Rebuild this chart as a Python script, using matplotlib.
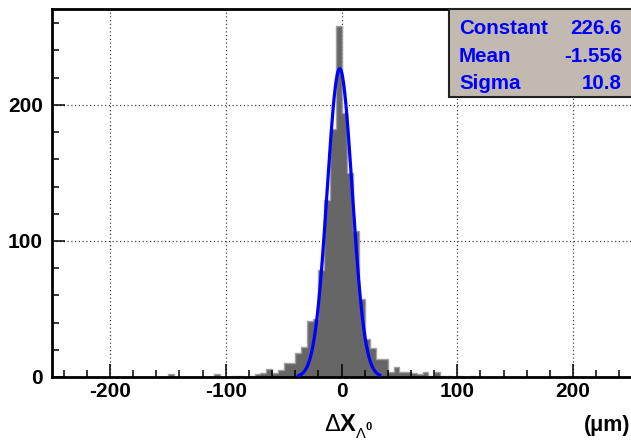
import numpy as np
import matplotlib
matplotlib.use("Agg")
import matplotlib.pyplot as plt
from matplotlib.ticker import MultipleLocator
from matplotlib.patches import Rectangle

plt.rcParams['font.family'] = ['Liberation Sans', 'DejaVu Sans']
plt.rcParams['mathtext.fontset'] = 'custom'
plt.rcParams['mathtext.rm'] = 'Liberation Sans'
plt.rcParams['mathtext.bf'] = 'Liberation Sans:bold'
plt.rcParams['mathtext.it'] = 'Liberation Sans:italic'

# ---- data ----
bin_edges = np.arange(-250, 255, 5)
counts = [
    0, 0, 0, 0, 0, 0, 0, 0, 0, 0,          # -250 .. -200
    0, 0, 0, 0, 0, 0, 0, 0, 0, 0,          # -200 .. -150
    2, 0, 0, 0, 0, 0, 0, 0, 2, 0,          # -150 .. -100
    0, 1, 1, 0, 1, 2, 3, 6, 3, 5,          # -100 .. -50
    10, 10, 18, 22, 41, 43, 79, 130, 182, 258,  # -50 .. 0
    194, 150, 107, 57, 28, 21, 13, 13, 4, 7,    # 0 .. 50
    4, 4, 3, 2, 4, 1, 4, 1, 1, 0,          # 50 .. 100
    1, 0, 1, 0, 0, 0, 0, 0, 0, 0,          # 100 .. 150
    0, 0, 0, 0, 0, 0, 0, 0, 0, 1,          # 150 .. 200
    0, 0, 0, 0, 0, 0, 0, 0, 0, 0,          # 200 .. 250
]
fit_constant = 226.6
fit_mean = -1.556
fit_sigma = 10.8
fit_range = (-37.0, 33.0)
stat_names = ["Constant", "Mean", "Sigma"]
stat_values = ["226.6", "-1.556", "10.8"]
xticks = [-200, -100, 0, 100, 200]
yticks = [0, 100, 200]

W, H = 631, 442
fig = plt.figure(figsize=(W / 100, H / 100), dpi=100)
ax = fig.add_axes([52 / W, 1 - 377 / H, 1 - 52 / W, (377 - 9) / H])
ax.set_xlim(-250, 250)
ax.set_ylim(0, 270.5)

# grid (below bars)
for x in xticks:
    ax.axvline(x, color='#444444', lw=0.9, ls=(0, (1, 2)), zorder=0.5)
for y in yticks[1:]:
    ax.axhline(y, color='#444444', lw=0.9, ls=(0, (1, 2)), zorder=0.5)

ax.stairs(counts, bin_edges, fill=True, color='#666666', zorder=1)
ax.stairs(counts, bin_edges, fill=False, color='#a0a0a0', lw=1.0, zorder=1.1)

xf = np.linspace(fit_range[0], fit_range[1], 300)
yf = fit_constant * np.exp(-0.5 * ((xf - fit_mean) / fit_sigma) ** 2)
ax.plot(xf, yf, color='#0000ff', lw=2.3, zorder=3)

ax.xaxis.set_major_locator(MultipleLocator(100))
ax.xaxis.set_minor_locator(MultipleLocator(20))
ax.yaxis.set_major_locator(MultipleLocator(100))
ax.yaxis.set_minor_locator(MultipleLocator(20))
ax.tick_params(which='both', direction='in', top=False, right=False, width=1.1, color='black')
ax.tick_params(which='major', length=9.4)
ax.tick_params(which='minor', length=5.2)
ax.tick_params(axis='x', which='major', pad=3.5, labelsize=15)
ax.tick_params(axis='y', which='major', pad=6.5, labelsize=15)
ax.set_xticks(xticks)
ax.set_xticklabels([str(v) for v in xticks], fontweight='bold')
ax.set_yticks(yticks)
ax.set_yticklabels([str(v) for v in yticks], fontweight='bold')

for s in ['left', 'bottom', 'top']:
    ax.spines[s].set_linewidth(2.0)
ax.spines['right'].set_visible(False)

# stats box
box = Rectangle((449 / W, 1 - 97 / H), 1 - 449 / W + 0.01, (97 - 9) / H,
                transform=fig.transFigure, facecolor='#c2b9b0', edgecolor='#222222',
                lw=1.5, zorder=5)
fig.add_artist(box)
ys = [28, 56.5, 83.5]
for name, val, yy in zip(stat_names, stat_values, ys):
    fig.text(459 / W, 1 - yy / H, name, color='#0000ff', fontsize=14.8,
             fontweight='bold', ha='left', va='center', zorder=6)
    fig.text(622 / W, 1 - yy / H, val, color='#0000ff', fontsize=14.8,
             fontweight='bold', ha='right', va='center', zorder=6)

# axis labels
fig.text(324 / W, 1 - 431 / H, r'$\Delta\mathbf{X}$',
         fontsize=17, ha='left', va='baseline')
fig.text(356 / W, 1 - 438.5 / H, '\u039b', fontsize=10.5, ha='left', va='baseline')
fig.text(365 / W, 1 - 430 / H, '0', fontsize=8, fontweight='bold',
         ha='left', va='baseline')
fig.text(630 / W, 1 - 431 / H, '(\u03bcm)', fontsize=15.5, fontweight='bold',
         ha='right', va='baseline')

fig.savefig('out.png', dpi=100)
